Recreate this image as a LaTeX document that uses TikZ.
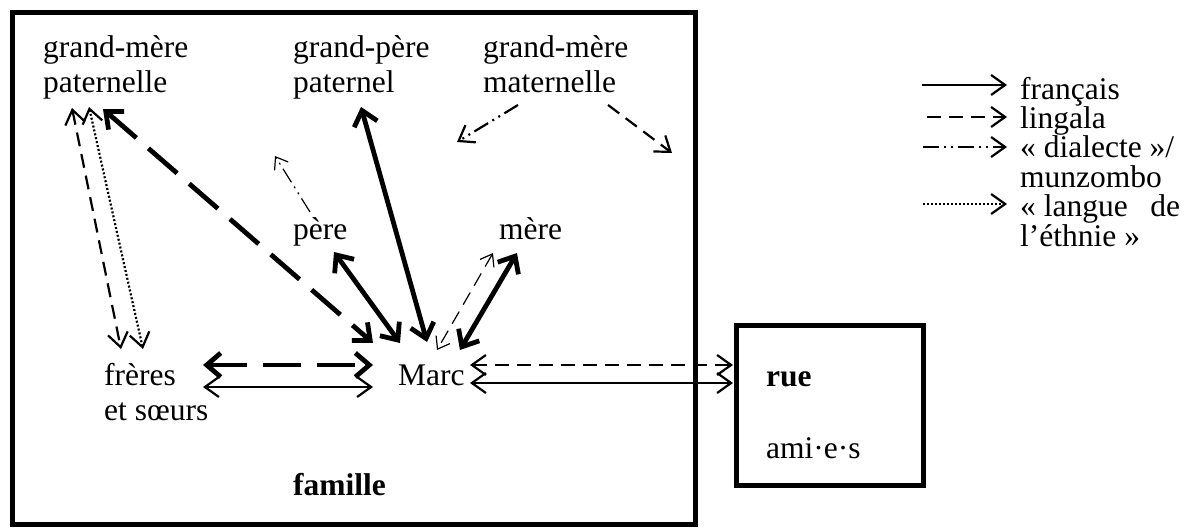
\documentclass[tikz,border=0pt]{standalone}
\usepackage{fontspec}
\setmainfont{Liberation Serif}
\usetikzlibrary{arrows.meta}
% two stacked lines whose baseline is the first one
\newcommand{\mkpair}[2]{\vtop{\lineskiplimit-50pt\relax\hbox{#1}\hbox{#2}}}
\begin{document}
\begin{tikzpicture}[x=1pt,y=-1pt,
  lab/.style={anchor=base west, inner sep=0pt,
    font={\fontsize{31.5}{35}\selectfont}},
  leg/.style={anchor=base west, inner sep=0pt,
    font={\fontsize{31.5}{29.3}\selectfont}},
  frame/.style={line width=5pt},
  heavy/.style={line width=4.8pt, >={Straight Barb[length=14pt,width=24pt]}},
  medium/.style={line width=2.2pt, >={Straight Barb[length=14pt,width=20pt]}},
  light/.style={line width=1.2pt, >={Straight Barb[length=11pt,width=16pt]}},
  lingala/.style={dash pattern=on 14pt off 8pt},
  lingalabig/.style={dash pattern=on 38pt off 16pt},
  dialecte/.style={dash pattern=on 16pt off 5pt on 2pt off 5pt on 2pt off 5pt},
  ethnie/.style={dash pattern=on 2pt off 2pt}
]
\useasboundingbox (0,0) rectangle (1189,529);

% frames
\draw[frame] (12.5,12.5) rectangle (695,524);
\draw[frame] (736,326) rectangle (923,485);

% people
\node[lab] (gmp) at (43,58) {\mkpair{grand-mère}{paternelle}};
\node[lab] (gpp) at (293,58) {\mkpair{grand-père}{paternel}};
\node[lab] (gmm) at (483,58) {\mkpair{grand-mère}{maternelle}};
\node[lab] (pere) at (293,240) {père};
\node[lab] (mere) at (499,240) {mère};
\node[lab] (marc) at (398,385) {Marc};
\node[lab] (freres) at (104,385) {\mkpair{frères}{et sœurs}};
\node[lab] (famille) at (293,495) {\bfseries famille};
\node[lab] (rue) at (766,386) {\bfseries rue};
\node[lab] (amies) at (766,458) {ami·e·s};

% arrow end points next to the labels
\coordinate (gmp-a) at (72,108);   \coordinate (fr-a) at (121,349);
\coordinate (gmp-b) at (89,107);   \coordinate (fr-b) at (143,349);
\coordinate (gmp-c) at (103,109);  \coordinate (marc-c) at (373,343);
\coordinate (gpp-a) at (361,107);  \coordinate (marc-g) at (427,342);
\coordinate (pere-a) at (334,252); \coordinate (marc-p) at (400,343);
\coordinate (pere-b) at (310,212); \coordinate (pere-up) at (275,156);
\coordinate (mere-a) at (517,253); \coordinate (marc-m) at (460,350);
\coordinate (mere-b) at (493,253); \coordinate (marc-n) at (437,350);
\coordinate (gmm-a) at (518,105);  \coordinate (gmm-l) at (457,142);
\coordinate (gmm-b) at (608,105);  \coordinate (gmm-r) at (672,153);
\coordinate (fr-c) at (203,365);   \coordinate (marc-fa) at (373,365);
\coordinate (fr-d) at (203,387);   \coordinate (marc-fb) at (373,387);
\coordinate (marc-ra) at (470,365); \coordinate (rue-a) at (733,365);
\coordinate (marc-rb) at (470,383); \coordinate (rue-b) at (733,383);

% exchanges
\draw[medium,lingala,<->] (gmp-a) -- (fr-a);
\draw[medium,ethnie,<->] (gmp-b) -- (fr-b);
\draw[heavy,lingalabig,<->] (gmp-c) -- (marc-c);
\draw[heavy,<->] (gpp-a) -- (marc-g);
\draw[heavy,<->] (pere-a) -- (marc-p);
\draw[light,dialecte,->] (pere-b) -- (pere-up);
\draw[heavy,<->] (mere-a) -- (marc-m);
\draw[light,lingala,<->] (mere-b) -- (marc-n);
\draw[medium,dialecte,->] (gmm-a) -- (gmm-l);
\draw[medium,lingala,->] (gmm-b) -- (gmm-r);
\draw[heavy,lingalabig,<->] (fr-c) -- (marc-fa);
\draw[medium,<->] (fr-d) -- (marc-fb);
\draw[medium,lingala,<->] (marc-ra) -- (rue-a);
\draw[medium,<->] (marc-rb) -- (rue-b);

% legend
\node[leg] (lf) at (1020,100) {français};
\node[leg] (ll) at (1020,129) {lingala};
\node[leg] (ld) at (1020,158) {\mkpair{« dialecte »/}{munzombo}};
\node[leg] (le) at (1020,217) {\mkpair{\hbox to 160pt{« langue\hfill de}}{l’éthnie »}};
\coordinate (lf-s) at (922,85);  \coordinate (lf-t) at (1007,85);
\coordinate (ll-s) at (927,117); \coordinate (ll-t) at (1007,117);
\coordinate (ld-s) at (923,147); \coordinate (ld-t) at (1007,147);
\coordinate (le-s) at (923,204); \coordinate (le-t) at (1007,204);
\draw[medium,->] (lf-s) -- (lf-t);
\draw[medium,lingala,->] (ll-s) -- (ll-t);
\draw[medium,dialecte,->] (ld-s) -- (ld-t);
\draw[medium,ethnie,->] (le-s) -- (le-t);
\end{tikzpicture}
\end{document}
